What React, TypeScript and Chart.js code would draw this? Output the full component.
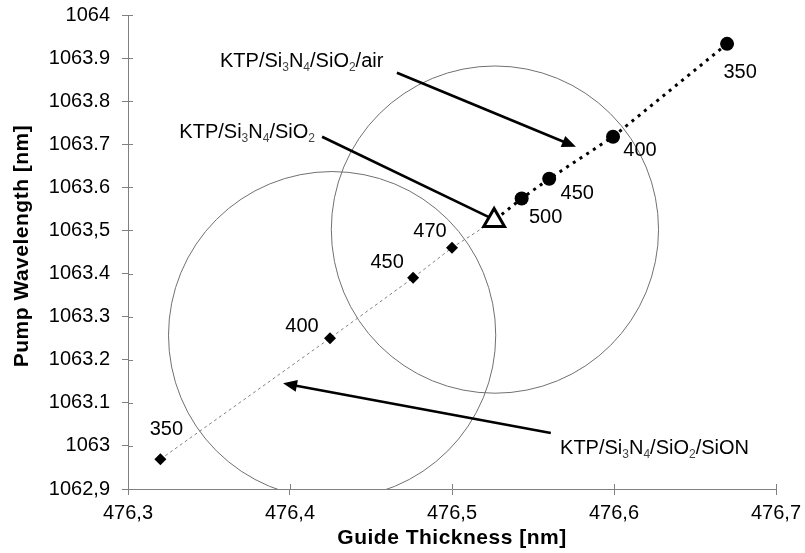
import React, { useEffect, useRef } from "react";
import { Chart, registerables } from "chart.js";

Chart.register(...registerables);

// ---- axis titles and tick labels ----
const xTitle = "Guide Thickness [nm]";
const yTitle = "Pump Wavelength [nm]";
const xTickLabels = ["476,3", "476,4", "476,5", "476,6", "476,7"];
const yTickLabels = [
  "1062,9", "1063", "1063.1", "1063.2", "1063.3", "1063.4",
  "1063,5", "1063.6", "1063.7", "1063.8", "1063.9", "1064",
];

// ---- KTP/Si3N4/SiO2/SiON series (diamonds) ----
const sionThickness = ["350", "400", "450", "470"];
const sionX = [476.32, 476.4247, 476.476, 476.5];
const sionY = [1062.969, 1063.25, 1063.39, 1063.46];

// ---- KTP/Si3N4/SiO2/air series (circles) ----
const airThickness = ["350", "400", "450", "500"];
const airX = [476.6698, 476.5994, 476.56, 476.543];
const airY = [1063.933, 1063.7175, 1063.62, 1063.574];

// ---- KTP/Si3N4/SiO2 (triangle) ----
const bareX = [476.526];
const bareY = [1063.523];

// ---- circle annotations: centre x, centre y, radius (x units) ----
const circleCX = [476.426, 476.5265];
const circleCY = [1063.257, 1063.502];
const circleR = [0.101, 0.101];

// ---- arrow annotations (start x, start y, tip x, tip y) ----
const arrowX1 = [476.466, 476.4198, 476.561];
const arrowY1 = [1063.866, 1063.7175, 1063.03];
const arrowX2 = [476.5765, 476.5247, 476.3957];
const arrowY2 = [1063.694, 1063.5276, 1063.1454];
const arrowHasHead = [true, false, true];

// ---- text annotations ----
type Part = { t: string; sub?: boolean };
const noteTexts: Part[][] = [
  [{ t: "KTP/Si" }, { t: "3", sub: true }, { t: "N" }, { t: "4", sub: true }, { t: "/SiO" }, { t: "2", sub: true }, { t: "/air" }],
  [{ t: "KTP/Si" }, { t: "3", sub: true }, { t: "N" }, { t: "4", sub: true }, { t: "/SiO" }, { t: "2", sub: true }],
  [{ t: "KTP/Si" }, { t: "3", sub: true }, { t: "N" }, { t: "4", sub: true }, { t: "/SiO" }, { t: "2", sub: true }, { t: "/SiON" }],
];
const noteX = [476.3568, 476.4154, 476.5667];
const noteY = [1063.896, 1063.7314, 1062.997];
const noteAlign = ["left", "right", "left"];

// label offsets (px) for point labels
const sionLabelDX = [6, -28, -26, -22];
const sionLabelDY = [-30, -12, -15, -16];
const airLabelDX = [13, 27, 28, 24];
const airLabelDY = [29, 14, 15, 19];

const FONT = '"Liberation Sans", Arial, Helvetica, sans-serif';

function drawRich(ctx: CanvasRenderingContext2D, parts: Part[], x: number, yc: number, align: string) {
  const mainFont = `20px ${FONT}`;
  const subFont = `12px ${FONT}`;
  let w = 0;
  for (const p of parts) {
    ctx.font = p.sub ? subFont : mainFont;
    w += ctx.measureText(p.t).width;
  }
  let cx = align === "right" ? x - w : x;
  const base = yc + 7;
  ctx.textAlign = "left";
  ctx.textBaseline = "alphabetic";
  for (const p of parts) {
    ctx.font = p.sub ? subFont : mainFont;
    ctx.fillStyle = p.sub ? "#444" : "#000";
    ctx.fillText(p.t, cx, p.sub ? base + 4 : base);
    cx += ctx.measureText(p.t).width;
  }
}

function drawArrow(ctx: CanvasRenderingContext2D, x1: number, y1: number, x2: number, y2: number, head: boolean) {
  const ang = Math.atan2(y2 - y1, x2 - x1);
  const L = 14;
  const W = 6;
  const bx = x2 - L * Math.cos(ang);
  const by = y2 - L * Math.sin(ang);
  ctx.beginPath();
  ctx.moveTo(x1, y1);
  if (head) ctx.lineTo(bx + 2 * Math.cos(ang), by + 2 * Math.sin(ang));
  else ctx.lineTo(x2, y2);
  ctx.stroke();
  if (!head) return;
  ctx.beginPath();
  ctx.moveTo(x2, y2);
  ctx.lineTo(bx - W * Math.sin(ang), by + W * Math.cos(ang));
  ctx.lineTo(bx + W * Math.sin(ang), by - W * Math.cos(ang));
  ctx.closePath();
  ctx.fill();
}

const annotationPlugin = {
  id: "annotations",
  beforeDatasetsDraw(chart: any) {
    const { ctx, chartArea: ca } = chart;
    const xs = chart.scales.x;
    const ys = chart.scales.y;
    // circles
    ctx.save();
    ctx.beginPath();
    ctx.rect(ca.left, ca.top, ca.right - ca.left, ca.bottom - ca.top);
    ctx.clip();
    ctx.strokeStyle = "#707070";
    ctx.lineWidth = 1;
    for (let i = 0; i < circleCX.length; i++) {
      const cx = xs.getPixelForValue(circleCX[i]);
      const cy = ys.getPixelForValue(circleCY[i]);
      const r = xs.getPixelForValue(circleCX[i] + circleR[i]) - cx;
      ctx.beginPath();
      ctx.arc(cx, cy, r, 0, Math.PI * 2);
      ctx.stroke();
    }
    ctx.restore();
    // arrows
    ctx.save();
    ctx.strokeStyle = "#000";
    ctx.fillStyle = "#000";
    ctx.lineWidth = 2.6;
    for (let i = 0; i < arrowX1.length; i++) {
      drawArrow(
        ctx,
        xs.getPixelForValue(arrowX1[i]), ys.getPixelForValue(arrowY1[i]),
        xs.getPixelForValue(arrowX2[i]), ys.getPixelForValue(arrowY2[i]),
        arrowHasHead[i]
      );
    }
    ctx.restore();
  },
  afterDatasetsDraw(chart: any) {
    const { ctx } = chart;
    const xs = chart.scales.x;
    const ys = chart.scales.y;
    ctx.save();
    for (let i = 0; i < noteTexts.length; i++) {
      drawRich(ctx, noteTexts[i], xs.getPixelForValue(noteX[i]), ys.getPixelForValue(noteY[i]), noteAlign[i]);
    }
    ctx.font = `20px ${FONT}`;
    ctx.fillStyle = "#000";
    ctx.textAlign = "center";
    ctx.textBaseline = "middle";
    for (let i = 0; i < sionThickness.length; i++) {
      ctx.fillText(
        sionThickness[i],
        xs.getPixelForValue(sionX[i]) + sionLabelDX[i],
        ys.getPixelForValue(sionY[i]) + sionLabelDY[i]
      );
    }
    for (let i = 0; i < airThickness.length; i++) {
      ctx.fillText(
        airThickness[i],
        xs.getPixelForValue(airX[i]) + airLabelDX[i],
        ys.getPixelForValue(airY[i]) + airLabelDY[i]
      );
    }
    ctx.restore();
  },
  afterDraw(chart: any) {
    const { ctx, chartArea: ca } = chart;
    const xs = chart.scales.x;
    const ys = chart.scales.y;
    // inner half of the crossing tick marks
    ctx.save();
    ctx.strokeStyle = "#808080";
    ctx.lineWidth = 1;
    ctx.beginPath();
    xs.ticks.forEach((_t: any, i: number) => {
      const p = Math.round(xs.getPixelForTick(i)) + 0.5;
      ctx.moveTo(p, ca.bottom);
      ctx.lineTo(p, ca.bottom - 5);
    });
    ys.ticks.forEach((_t: any, i: number) => {
      const p = Math.round(ys.getPixelForTick(i)) + 0.5;
      ctx.moveTo(ca.left, p);
      ctx.lineTo(ca.left + 5, p);
    });
    ctx.stroke();
    ctx.restore();
    // axis titles
    ctx.save();
    ctx.font = `bold 21px ${FONT}`;
    (ctx as any).letterSpacing = "0.5px";
    ctx.fillStyle = "#000";
    ctx.textAlign = "center";
    ctx.textBaseline = "middle";
    ctx.fillText(xTitle, (ca.left + ca.right) / 2, chart.height - 15);
    ctx.translate(22, (ca.top + ca.bottom) / 2 - 6);
    ctx.rotate(-Math.PI / 2);
    ctx.fillText(yTitle, 0, 0);
    ctx.restore();
  },
};

export default function App() {
  const ref = useRef<HTMLCanvasElement | null>(null);

  useEffect(() => {
    if (!ref.current) return;
    const sionPts = sionX.map((x, i) => ({ x, y: sionY[i] })).concat([{ x: bareX[0], y: bareY[0] }]);
    const airPts = airX.map((x, i) => ({ x, y: airY[i] })).concat([{ x: bareX[0], y: bareY[0] }]);
    const barePts = bareX.map((x, i) => ({ x, y: bareY[i] }));

    const chart = new Chart(ref.current, {
      type: "scatter",
      data: {
        datasets: [
          {
            label: "KTP/Si3N4/SiO2",
            data: barePts,
            showLine: false,
            pointStyle: "triangle",
            pointRadius: 12,
            pointBackgroundColor: "#fff",
            pointBorderColor: "#000",
            pointBorderWidth: 3,
          },
          {
            label: "KTP/Si3N4/SiO2/air",
            data: airPts,
            showLine: true,
            borderColor: "#000",
            borderWidth: 3,
            borderDash: [3, 5],
            pointStyle: "circle",
            pointRadius: [7, 7, 7, 7, 0],
            pointBackgroundColor: "#000",
            pointBorderColor: "#000",
            pointBorderWidth: 0,
          },
          {
            label: "KTP/Si3N4/SiO2/SiON",
            data: sionPts,
            showLine: true,
            borderColor: "#808080",
            borderWidth: 1,
            borderDash: [3, 3],
            pointStyle: "rectRot",
            pointRadius: [6, 6, 6, 6, 0],
            pointBackgroundColor: "#000",
            pointBorderColor: "#000",
            pointBorderWidth: 0,
          },
        ],
      },
      options: {
        animation: false,
        responsive: false,
        devicePixelRatio: 1,
        layout: { padding: { top: 14, right: 29, left: 0, bottom: 0 } },
        plugins: {
          legend: { display: false },
          tooltip: { enabled: false },
        },
        scales: {
          x: {
            type: "linear",
            min: 476.3,
            max: 476.7,
            ticks: {
              stepSize: 0.1,
              color: "#000",
              font: { family: FONT, size: 20 },
              padding: 6,
              maxRotation: 0,
              callback: (_v: any, i: number) => xTickLabels[i],
            },
            grid: { drawOnChartArea: false, drawTicks: true, tickLength: 6, tickColor: "#808080" },
            border: { color: "#808080", width: 1 },
            title: { display: false },
            afterFit: (s: any) => {
              s.height = 64;
              s.paddingLeft = 0;
              s.paddingRight = 0;
            },
          },
          y: {
            type: "linear",
            min: 1062.9,
            max: 1064,
            ticks: {
              stepSize: 0.1,
              color: "#000",
              font: { family: FONT, size: 20 },
              padding: 12,
              callback: (_v: any, i: number) => yTickLabels[i],
            },
            grid: { drawOnChartArea: false, drawTicks: true, tickLength: 6, tickColor: "#808080" },
            border: { color: "#808080", width: 1 },
            title: { display: false },
            afterFit: (s: any) => {
              s.width = 128;
              s.paddingTop = 0;
              s.paddingBottom = 0;
            },
          },
        },
      },
      plugins: [annotationPlugin],
    });
    return () => chart.destroy();
  }, []);

  return (
    <div style={{ position: "absolute", left: 0, top: 0, width: 805, height: 553, background: "#fff" }}>
      <canvas ref={ref} width={805} height={553} style={{ width: 805, height: 553 }} />
    </div>
  );
}
